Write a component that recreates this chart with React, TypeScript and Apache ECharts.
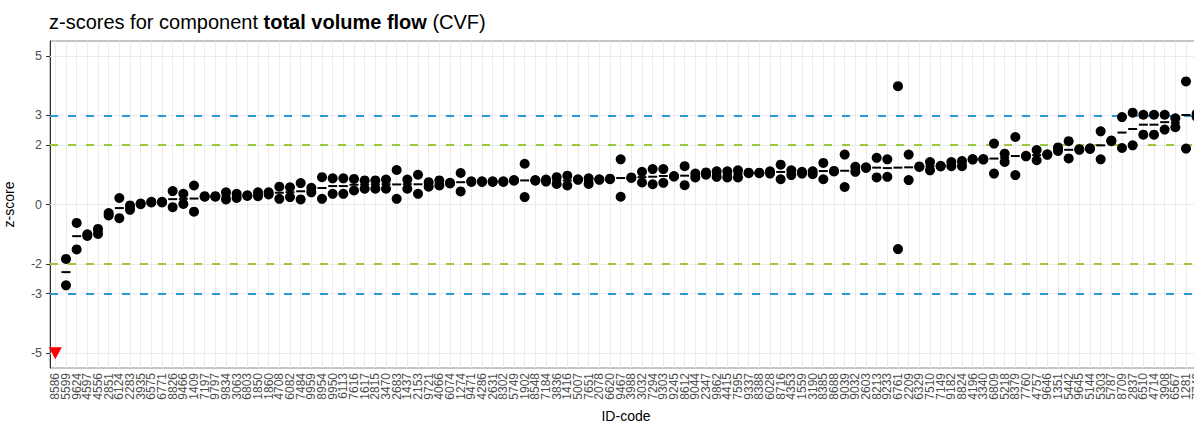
import React, { useEffect, useRef } from "react";
import * as echarts from "echarts";

const ids: string[] = [
  "8586", "5599", "9624", "4597", "4556", "2851", "6124", "2283", "3935", "6575",
  "6771", "8826", "9466", "1409", "7197", "9797", "9834", "3063", "6803", "1850",
  "1860", "4708", "6082", "7484", "9959", "8954", "9950", "6113", "7616", "1617",
  "2815", "3470", "2683", "1437", "2153", "9721", "4066", "6074", "1274", "9471",
  "4286", "2631", "8302", "5749", "1902", "8548", "7184", "3836", "1416", "5007",
  "7651", "2078", "6620", "9467", "3988", "3032", "7294", "9303", "9245", "8612",
  "9044", "2347", "9862", "4415", "7595", "9337", "8388", "6028", "8716", "4353",
  "1559", "3190", "8385", "8688", "9039", "9032", "2603", "8213", "9233", "6761",
  "2209", "6329", "7510", "7149", "9182", "8824", "4196", "3340", "6809", "5218",
  "8379", "7760", "4757", "9646", "1351", "5442", "9645", "5144", "5303", "5787",
  "8709", "2837", "6510", "4714", "3908", "6567", "1281", "7743",
];

const highVals: (number | null)[] = [
  null, -1.83, -0.62, -1.0, -0.82, -0.29, 0.22, -0.03, 0.03, 0.09,
  0.09, 0.45, 0.36, 0.64, 0.28, 0.28, 0.41, 0.36, 0.31, 0.41,
  0.41, 0.6, 0.58, 0.72, 0.56, 0.92, 0.88, 0.88, 0.86, 0.81,
  0.81, 0.84, 1.16, 0.84, 1.0, 0.75, 0.81, 0.73, 1.06, 0.78,
  0.78, 0.78, 0.78, 0.82, 1.37, 0.82, 0.84, 0.92, 0.97, 0.85,
  0.88, 0.85, 0.87, 1.52, 0.91, 1.1, 1.19, 1.19, 0.96, 1.29,
  1.04, 1.08, 1.12, 1.12, 1.15, 1.07, 1.07, 1.12, 1.34, 1.15,
  1.1, 1.12, 1.4, 1.13, 1.68, 1.27, 1.25, 1.57, 1.52, 3.98,
  1.68, 1.28, 1.43, 1.3, 1.43, 1.46, 1.53, 1.53, 2.05, 1.71,
  2.27, 1.64, 1.83, 1.69, 1.92, 2.13, 1.86, 1.89, 2.46, 2.15,
  2.94, 3.09, 3.02, 3.02, 3.02, 2.9, 4.14, 3.05,
];

const lowVals: (number | null)[] = [
  null, -2.72, -1.51, -1.06, -0.99, -0.37, -0.46, -0.18, 0.01, 0.07,
  0.07, -0.09, 0.02, -0.24, 0.26, 0.26, 0.17, 0.22, 0.29, 0.28,
  0.34, 0.19, 0.25, 0.17, 0.41, 0.19, 0.36, 0.36, 0.47, 0.53,
  0.53, 0.53, 0.19, 0.53, 0.36, 0.6, 0.64, 0.71, 0.44, 0.76,
  0.76, 0.76, 0.76, 0.8, 0.25, 0.8, 0.77, 0.69, 0.64, 0.83,
  0.69, 0.83, 0.85, 0.26, 0.89, 0.74, 0.68, 0.73, 0.94, 0.65,
  0.91, 1.0, 0.93, 0.91, 0.91, 1.05, 1.05, 1.04, 0.85, 0.99,
  1.04, 1.02, 0.85, 1.11, 0.59, 1.1, 1.23, 0.91, 0.93, -1.5,
  0.82, 1.26, 1.15, 1.28, 1.29, 1.29, 1.51, 1.51, 1.04, 1.43,
  0.99, 1.62, 1.49, 1.67, 1.8, 1.55, 1.84, 1.87, 1.52, 2.13,
  1.9, 1.99, 2.35, 2.35, 2.52, 2.6, 1.88, 2.95,
];

// IDs whose z-score lies below the plotted range (drawn as a red marker at the floor)
const belowRangeIds: string[] = ["8586"];
const floorValue = -5;

const yTicks: number[] = [-5, -3, -2, 0, 2, 3, 5];
const limits2: number[] = [-2, 2];
const limits3: number[] = [-3, 3];

const FONT = "Liberation Sans, Arial, Helvetica, sans-serif";

export default function App() {
  const ref = useRef<HTMLDivElement>(null);

  useEffect(() => {
    if (!ref.current) return;
    const chart = echarts.init(ref.current, undefined, { renderer: "svg" });

    const highData = ids.map((id, i) => [id, highVals[i]]).filter((d) => d[1] !== null);
    const lowData = ids.map((id, i) => [id, lowVals[i]]).filter((d) => d[1] !== null);
    const meanData = ids
      .map((id, i) => {
        const h = highVals[i];
        const l = lowVals[i];
        return h === null || l === null ? null : [id, (h + l) / 2];
      })
      .filter((d) => d !== null);

    chart.setOption({
      animation: false,
      backgroundColor: "#ffffff",
      title: {
        text: "z-scores for component {b|total volume flow} (CVF)",
        left: 44,
        top: 7,
        textStyle: {
          fontFamily: FONT,
          fontSize: 20,
          fontWeight: "normal",
          color: "#000000",
          rich: {
            b: { fontFamily: FONT, fontSize: 20, fontWeight: "bold", color: "#000000" },
          },
        },
      },
      grid: {
        left: 50,
        right: 13,
        top: 41,
        bottom: 56,
        show: true,
        borderColor: "#8a8a8a",
        borderWidth: 1,
        backgroundColor: "transparent",
        containLabel: false,
        outerBoundsMode: "none",
      },
      xAxis: {
        type: "category",
        data: ids,
        boundaryGap: true,
        name: "ID-code",
        nameLocation: "middle",
        nameGap: 41,
        nameTextStyle: { fontFamily: FONT, fontSize: 14, color: "#000000" },
        axisLine: { show: true, lineStyle: { color: "#333333", width: 1 } },
        axisTick: { show: true, interval: 0, alignWithLabel: true, length: 4, lineStyle: { color: "#333333" } },
        axisLabel: {
          interval: 0,
          rotate: 90,
          fontFamily: FONT,
          fontSize: 12,
          color: "#4d4d4d",
          margin: 5,
          hideOverlap: false,
        },
        splitLine: { show: false },
      },
      yAxis: {
        type: "value",
        min: -5.5,
        max: 5.5,
        name: "z-score",
        nameLocation: "middle",
        nameGap: 34,
        nameTextStyle: { fontFamily: FONT, fontSize: 14, color: "#000000" },
        axisLine: { show: true, lineStyle: { color: "#333333", width: 1 } },
        axisTick: { show: true, length: 4, customValues: yTicks, lineStyle: { color: "#333333" } },
        axisLabel: {
          customValues: yTicks,
          fontFamily: FONT,
          fontSize: 12.5,
          color: "#4d4d4d",
          margin: 8,
        },
        splitLine: { show: false },
      },
      series: [
        {
          type: "scatter",
          data: [],
          z: 1,
          silent: true,
          markLine: {
            silent: true,
            z: 1,
            symbol: ["none", "none"],
            label: { show: false },
            animation: false,
            lineStyle: { color: "#ebebeb", width: 1, type: "solid" },
            data: [
              ...ids.map((id) => ({ xAxis: id })),
              ...yTicks.map((v) => ({ yAxis: v })),
            ],
          },
        },
        {
          type: "scatter",
          data: [],
          z: 2,
          silent: true,
          markLine: {
            silent: true,
            z: 2,
            symbol: ["none", "none"],
            label: { show: false },
            animation: false,
            lineStyle: { color: "#9bc93a", width: 2, type: [8, 10], opacity: 1 },
            data: limits2.map((v) => ({ yAxis: v })),
          },
        },
        {
          type: "scatter",
          data: [],
          z: 2,
          silent: true,
          markLine: {
            silent: true,
            z: 2,
            symbol: ["none", "none"],
            label: { show: false },
            animation: false,
            lineStyle: { color: "#2a9ad6", width: 2, type: [8, 10], opacity: 1 },
            data: limits3.map((v) => ({ yAxis: v })),
          },
        },
        {
          name: "mean",
          type: "scatter",
          data: meanData,
          z: 6,
          symbol: "rect",
          symbolSize: [9, 2],
          itemStyle: { color: "#000000", opacity: 1 },
        },
        {
          name: "high",
          type: "scatter",
          data: highData,
          z: 7,
          symbol: "circle",
          symbolSize: 10,
          itemStyle: { color: "#000000", opacity: 1 },
        },
        {
          name: "low",
          type: "scatter",
          data: lowData,
          z: 7,
          symbol: "circle",
          symbolSize: 10,
          itemStyle: { color: "#000000", opacity: 1 },
        },
        {
          name: "below range",
          type: "scatter",
          data: belowRangeIds.map((id) => [id, floorValue]),
          z: 8,
          symbol: "triangle",
          symbolRotate: 180,
          symbolSize: [13, 12],
          itemStyle: { color: "#ff0000", opacity: 1 },
        },
      ],
    });

    return () => chart.dispose();
  }, []);

  return (
    <div
      style={{
        position: "fixed",
        left: 0,
        top: 0,
        width: 1194,
        height: 424,
        overflow: "hidden",
        background: "#ffffff",
      }}
    >
      <div ref={ref} style={{ width: 1215, height: 424 }} />
    </div>
  );
}
